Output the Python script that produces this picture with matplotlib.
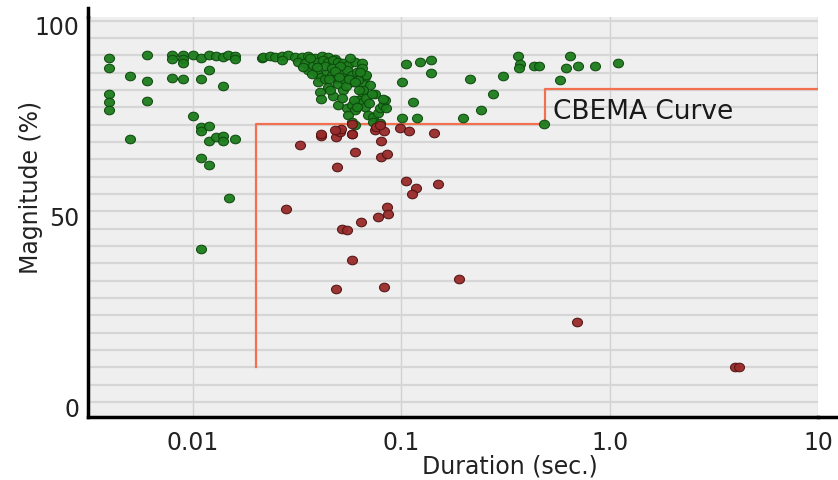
import numpy as np
import matplotlib
matplotlib.use("Agg")
import matplotlib.pyplot as plt
from matplotlib.path import Path
from matplotlib.transforms import Affine2D

# events that rode through (green) - short durations on the left
ok_short_dur = [0.00397, 0.00397, 0.00397, 0.00397, 0.00397,
                0.0050, 0.0050,
                0.0060, 0.0060, 0.0060,
                0.00793, 0.00793, 0.00793,
                0.00893, 0.00893, 0.00893, 0.00893,
                0.00997, 0.0109, 0.0109, 0.0119, 0.0119,
                0.0129, 0.0139, 0.0148, 0.0159, 0.0159, 0.0140,
                0.00997, 0.0109, 0.0109, 0.0119,
                0.0119, 0.0129, 0.0140, 0.0140, 0.0159,
                0.0109, 0.0119, 0.0149, 0.0109, 0.0215]
ok_short_mag = [91.5, 88.9, 81.9, 79.8, 77.7,
                86.7, 70.2,
                92.3, 85.4, 80.2,
                92.2, 91.1, 86.2,
                92.3, 91.1, 90.0, 85.9,
                92.2, 91.4, 85.8, 92.1, 88.4,
                91.9, 91.6, 92.1, 91.9, 91.1, 84.1,
                76.1, 73.4, 72.3, 73.6,
                69.6, 70.6, 71.1, 69.6, 70.1,
                65.1, 63.4, 54.7, 41.4, 91.4]

# the dense cluster between 20 and 90 ms
ok_mid_dur = [0.0217, 0.0234, 0.0247, 0.0267, 0.0285, 0.0308, 0.0333, 0.0356, 0.0385, 0.0416, 0.0444, 0.0480,
              0.0267, 0.0320, 0.0345, 0.0357, 0.0378, 0.0399, 0.0422, 0.0446, 0.0471, 0.0498, 0.0526, 0.0556,
              0.0598, 0.0645,
              0.0392, 0.0414, 0.0438, 0.0463, 0.0489, 0.0517, 0.0546, 0.0577, 0.0610, 0.0645, 0.0668,
              0.0399, 0.0446, 0.0498, 0.0536, 0.0587, 0.0656, 0.0706,
              0.0407, 0.0414, 0.0471, 0.0498, 0.0546, 0.0577, 0.0598, 0.0621, 0.0656, 0.0668, 0.0747, 0.0645,
              0.0556, 0.0577, 0.0598, 0.0693, 0.0733, 0.0774, 0.0788, 0.0818, 0.0849, 0.0833, 0.0818, 0.0733,
              0.0788, 0.0676, 0.0656,
              0.0337, 0.0365, 0.0431, 0.0464, 0.0507, 0.0567, 0.0618, 0.0524, 0.0454, 0.0373, 0.0632,
              0.0430, 0.0480, 0.0505, 0.0540, 0.0560, 0.0600, 0.0625, 0.0680, 0.0700, 0.0720, 0.0590,
              0.0610, 0.0520, 0.0450, 0.0395]
ok_mid_mag = [91.6, 92.0, 91.8, 91.9, 92.1, 91.6, 91.8, 92.0, 91.4, 91.9, 91.6, 91.2,
              90.8, 90.4, 90.0, 88.2, 89.5, 90.4, 90.8, 90.4, 90.8, 90.4, 90.0, 89.5,
              90.4, 90.0,
              87.4, 86.5, 87.8, 86.9, 86.0, 87.4, 88.2, 86.9, 87.8, 88.7, 86.5,
              85.2, 83.8, 84.7, 85.6, 85.2, 84.7, 84.3,
              82.5, 80.8, 81.5, 79.1, 78.2, 79.1, 77.7, 80.4, 79.9, 78.6, 81.9, 82.5,
              76.4, 74.7, 73.8, 76.4, 76.0, 76.9, 78.2, 79.1, 78.2, 80.4, 80.8, 74.7,
              74.3, 86.9, 83.0,
              89.0, 91.4, 89.3, 88.7, 89.3, 91.4, 85.6, 83.0, 83.0, 87.2, 87.7,
              85.8, 88.0, 86.5, 84.0, 86.0, 85.0, 83.0, 81.0, 79.5, 82.0, 80.5,
              78.5, 81.0, 86.0, 89.0]

# longer events that rode through
ok_long_dur = [0.1051, 0.1227, 0.1385, 0.1385, 0.1006, 0.1135, 0.1006, 0.1187, 0.2131, 0.1972,
               0.2405, 0.2747, 0.3067, 0.3621, 0.3701, 0.3657, 0.4320, 0.4566, 0.5757, 0.6151,
               0.6430, 0.7024, 0.8475, 1.092, 0.4826]
ok_long_mag = [89.8, 90.3, 91.0, 87.4, 85.0, 80.0, 75.7, 75.6, 85.9, 75.6,
               77.9, 81.9, 86.6, 91.9, 89.8, 88.7, 89.3, 89.3, 85.6, 88.7,
               92.0, 89.4, 89.3, 90.0, 74.2]

# events below the curve (red)
fail_dur = [0.0410, 0.0328, 0.0489, 0.0485, 0.0507, 0.0516, 0.0581, 0.0581, 0.0598, 0.0492,
            0.0747, 0.0760, 0.0824, 0.0788, 0.0797, 0.0797, 0.0855, 0.0984, 0.1086, 0.1436,
            0.1055, 0.1183, 0.1132, 0.1502, 0.0279, 0.0855, 0.0859, 0.0769, 0.0639, 0.0521,
            0.0546, 0.0579, 0.0485, 0.0827, 0.1888, 0.70, 3.98, 4.20, 0.0414, 0.0480, 0.0577]
fail_mag = [71.0, 68.5, 72.3, 70.8, 72.1, 72.7, 71.5, 74.1, 66.8, 62.9,
            72.5, 73.4, 72.3, 73.8, 69.7, 65.6, 66.4, 73.0, 72.3, 71.9,
            59.2, 57.3, 55.9, 58.3, 51.9, 52.5, 50.5, 49.7, 48.4, 46.7,
            46.5, 38.5, 30.8, 31.4, 33.5, 22.3, 10.5, 10.5, 71.6, 72.5, 71.6]

# CBEMA lower limit (step curve)
cbema_dur = [0.02, 0.02, 0.49, 0.49, 10, 10]
cbema_mag = [10.5, 74.2, 74.2, 83.2, 83.2, 92.1]

x_ticks = [0.01, 0.1, 1.0, 10]
x_labels = ["0.01", "0.1", "1.0", "10"]
y_ticks = [0, 50, 100]
y_labels = ["0", "50", "100"]


def main():
    fig = plt.figure(figsize=(8.38, 4.8), dpi=100)
    ax = fig.add_axes([0.105, 0.132, 0.871, 0.833])
    ax.set_facecolor("#efefef")

    ax.set_xscale("log")
    ax.set_xlim(10 ** -2.504, 10)
    ax.set_ylim(-2.5, 102.2)

    # horizontal grid
    ax.set_yticks(np.arange(1.3, 102, 4.54), minor=True)
    ax.grid(which="minor", axis="y", color="#d6d6d6", lw=1.6)
    ax.set_xticks(x_ticks)
    ax.set_xticklabels(x_labels)
    ax.xaxis.set_minor_locator(matplotlib.ticker.NullLocator())
    ax.grid(which="major", axis="x", color="#d2d2d2", lw=1.0)
    ax.set_yticks(y_ticks)
    ax.set_yticklabels(y_labels)
    ax.set_axisbelow(True)
    ax.tick_params(which="both", length=0, labelsize=17, colors="#222222")
    ax.tick_params(axis="x", pad=10)
    ax.tick_params(axis="y", pad=6)

    for side in ["top", "right"]:
        ax.spines[side].set_visible(False)
    for side in ["left", "bottom"]:
        ax.spines[side].set_linewidth(2.5)
        ax.spines[side].set_color("black")
    # axis lines run a little past the plot area
    ax.plot([0, 0], [1.0, 1.022], transform=ax.transAxes, color="black", lw=2.5, clip_on=False)
    ax.plot([1.0, 1.03], [0, 0], transform=ax.transAxes, color="black", lw=2.5, clip_on=False)

    # last riser of the curve sits on the frame edge and is drawn faint
    ax.plot(cbema_dur[:-1], cbema_mag[:-1], color="#f07050", lw=1.6, zorder=2)
    ax.plot(cbema_dur[-2:], cbema_mag[-2:], color="#f07050", lw=1.6, alpha=0.3, zorder=2)
    ax.text(0.533, 77.2, "CBEMA Curve", fontsize=19, ha="left", va="center", color="#1a1a1a")

    dot = Path.unit_circle().transformed(Affine2D().scale(1.17, 1.0))
    green_dur = ok_short_dur + ok_mid_dur + ok_long_dur
    green_mag = ok_short_mag + ok_mid_mag + ok_long_mag
    ax.scatter(green_dur, green_mag, s=52, marker=dot, color="#1d7d1d",
               edgecolors="#0e4a0e", linewidths=0.8, alpha=0.95, zorder=3)
    ax.scatter(fail_dur, fail_mag, s=52, marker=dot, color="#9a2b2b",
               edgecolors="#531414", linewidths=0.8, alpha=0.95, zorder=3)

    ax.set_xlabel("Duration (sec.)", fontsize=17, color="#222222")
    ax.set_ylabel("Magnitude (%)", fontsize=17, color="#222222")
    ax.xaxis.set_label_coords(0.578, -0.095)
    ax.yaxis.set_label_coords(-0.062, 0.574)

    fig.savefig("out.png", dpi=100)


main()
